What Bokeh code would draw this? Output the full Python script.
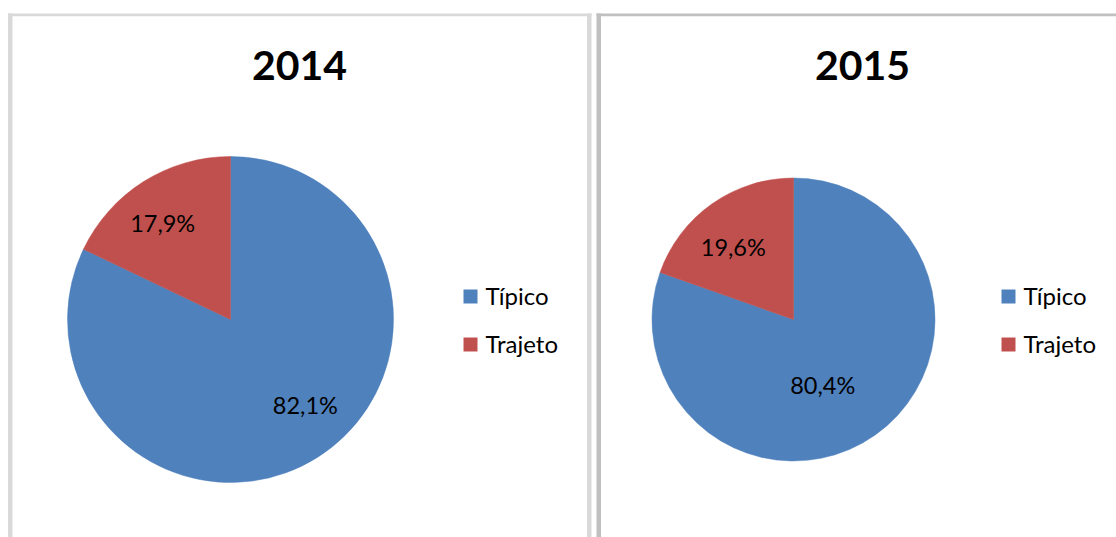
import math
from bokeh.plotting import figure
from bokeh.models import Range1d, ColumnDataSource
from bokeh.core.properties import value
from bokeh.embed import file_html
from bokeh.resources import INLINE

# ---- data ----
years = ["2014", "2015"]
categories = ["Típico", "Trajeto"]
values_2014 = [82.1, 17.9]
values_2015 = [80.4, 19.6]
colors = ["#4F81BD", "#C0504D"]

W, H = 1116, 537
FONT = "Lato"

p = figure(width=W, height=H, output_backend="svg", toolbar_location=None,
           x_range=Range1d(0, W), y_range=Range1d(0, H), min_border=0)
p.axis.visible = False
p.grid.visible = False
p.outline_line_color = None
p.background_fill_color = "white"
p.border_fill_color = "white"

def Y(y):  # image-top coordinate -> data coordinate
    return H - y

# panel borders (layout)
panels = [
    dict(left=7.5, right=591, top=13, color="#D9D9D9", right_edge=True),
    dict(left=596, right=1125, top=13, color="#C0C0C0", right_edge=False),
]
for pn in panels:
    c = pn["color"]
    p.quad(left=[pn["left"]], right=[pn["left"] + 4.5], top=[Y(pn["top"])], bottom=[-5],
           fill_color=c, line_color=None)
    p.quad(left=[pn["left"]], right=[pn["right"]], top=[Y(pn["top"])], bottom=[Y(pn["top"] + 2.7)],
           fill_color=c, line_color=None)
    if pn["right_edge"]:
        p.quad(left=[pn["right"] - 4.5], right=[pn["right"]], top=[Y(pn["top"])], bottom=[-5],
               fill_color=c, line_color=None)

# layout per pie
layouts = [
    dict(cx=230, cy=319, r=163, title_x=299, legend_x=463, text_x=485,
         label_off=[(14, 11), (-7, 0)]),
    dict(cx=793, cy=319, r=141.5, title_x=862, legend_x=1001, text_x=1023,
         label_off=[(-28, 15), (-3, -8)]),
]

for year, vals, lay in zip(years, [values_2014, values_2015], layouts):
    total = sum(vals)
    # blue clockwise from 12 o'clock, red fills the rest
    starts, ends, lx, ly, labels = [], [], [], [], []
    ang = math.pi / 2
    for i, v in enumerate(vals):
        sweep = 2 * math.pi * v / total
        a_end = ang
        a_start = ang - sweep
        starts.append(a_start)
        ends.append(a_end)
        mid = (a_start + a_end) / 2
        ox, oy = lay["label_off"][i]
        lx.append(lay["cx"] + 0.7 * lay["r"] * math.cos(mid) + ox)
        ly.append(Y(lay["cy"]) + 0.7 * lay["r"] * math.sin(mid) + oy)
        labels.append(f"{v:.1f}%".replace(".", ","))
        ang = a_start
    src = ColumnDataSource(dict(x=[lay["cx"]] * len(vals), y=[Y(lay["cy"])] * len(vals),
                                start=starts, end=ends, color=colors, cat=categories))
    p.wedge(x="x", y="y", radius=lay["r"], start_angle="start", end_angle="end",
            fill_color="color", line_color="color", line_width=0.5, source=src)
    p.text(x=lx, y=ly, text=labels, text_font=value(FONT), text_font_size="23.5px",
           text_color="black", text_align="center", text_baseline="middle")
    # title
    p.text(x=[lay["title_x"]], y=[Y(65)], text=[year], text_font=value(FONT),
           text_font_size="41px", text_font_style="bold", text_color="black",
           text_align="center", text_baseline="middle")
    # legend
    leg_y = [Y(296), Y(344)]
    p.rect(x=[lay["legend_x"] + 7] * 2, y=leg_y, width=14, height=14,
           fill_color=colors, line_color=None)
    p.text(x=[lay["text_x"]] * 2, y=[v + 1.5 for v in leg_y], text=categories,
           text_font=value(FONT), text_font_size="24px", text_color="black",
           text_align="left", text_baseline="middle")

open("out.html", "w").write(file_html(p, INLINE))
